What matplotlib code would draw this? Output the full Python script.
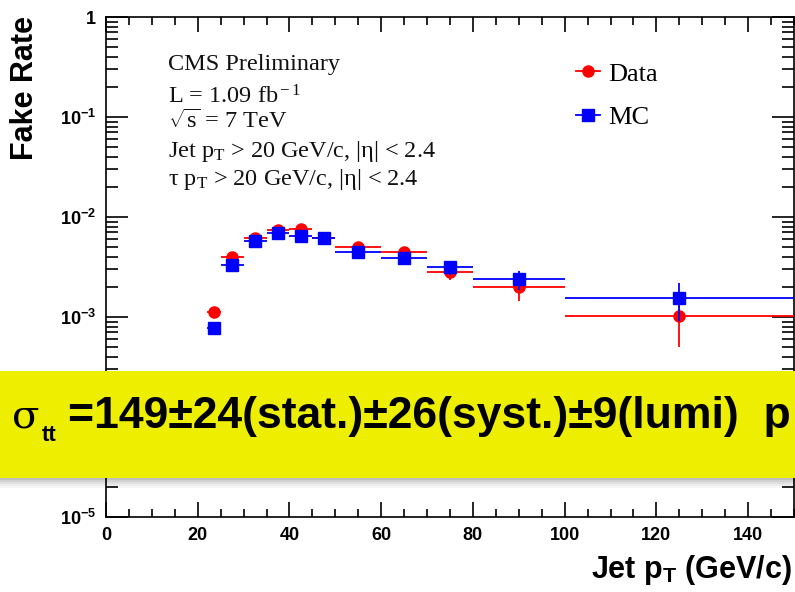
import numpy as np
import matplotlib
matplotlib.use('Agg')
import matplotlib.pyplot as plt
from matplotlib.patches import Rectangle
from matplotlib.lines import Line2D
from matplotlib.ticker import MultipleLocator, LogLocator, NullFormatter

# bins in jet pT (GeV/c)
bin_lo = [22, 25, 30, 35, 40, 45, 50, 60, 70, 80, 100]
bin_hi = [25, 30, 35, 40, 45, 50, 60, 70, 80, 100, 150]

data_rate = [1.12e-3, 4.0e-3, 6.2e-3, 7.4e-3, 7.6e-3, 6.2e-3, 5.0e-3, 4.5e-3, 2.84e-3, 2.0e-3, 1.02e-3]
data_err = [0.06e-3, 0.2e-3, 0.25e-3, 0.3e-3, 0.35e-3, 0.3e-3, 0.25e-3, 0.25e-3, 0.5e-3, 0.54e-3, 0.52e-3]
mc_rate = [0.78e-3, 3.29e-3, 5.75e-3, 6.87e-3, 6.4e-3, 6.2e-3, 4.5e-3, 3.9e-3, 3.16e-3, 2.38e-3, 1.56e-3]
mc_err = [0.04e-3, 0.12e-3, 0.2e-3, 0.25e-3, 0.25e-3, 0.2e-3, 0.2e-3, 0.2e-3, 0.5e-3, 0.52e-3, 0.64e-3]
mc_hi = [25, 30, 35, 40, 45, 50, 60, 70, 80, 100, 175]

# the 10^-4 label sits under the yellow banner in the original
ytick_vals = [1e-5, 1e-4, 1e-3, 1e-2, 1e-1, 1]
ytick_labels = [r'$\mathbf{10^{-5}}$', '', r'$\mathbf{10^{-3}}$',
                r'$\mathbf{10^{-2}}$', r'$\mathbf{10^{-1}}$', r'$\mathbf{1}$']

plt.rcParams['mathtext.fontset'] = 'custom'
plt.rcParams['mathtext.rm'] = 'Liberation Serif'
plt.rcParams['mathtext.it'] = 'Liberation Serif:italic'
plt.rcParams['mathtext.bf'] = 'Liberation Sans:bold'
plt.rcParams['mathtext.sf'] = 'Liberation Sans'

W, H = 795, 592
fig = plt.figure(figsize=(W / 100, H / 100), dpi=100)
ax = fig.add_axes([106 / W, 75 / H, 688 / W, 500 / H])

lo = np.array(bin_lo, float)
hi = np.array(bin_hi, float)
x = (lo + hi) / 2
mhi = np.array(mc_hi, float)

ax.errorbar(x, data_rate, xerr=[x - lo, hi - x], yerr=data_err, fmt='o', color='red',
            ms=8, elinewidth=1.3, capsize=0, zorder=3)
ax.errorbar(x, mc_rate, xerr=[x - lo, mhi - x], yerr=mc_err, fmt='s', color='blue',
            ms=8.5, elinewidth=1.3, capsize=0, zorder=4)

ax.set_yscale('log')
ax.set_xlim(0, 150)
ax.set_ylim(1e-5, 1)
ax.set_xticks(np.arange(0, 151, 20))
ax.xaxis.set_minor_locator(MultipleLocator(5))
ax.set_yticks(ytick_vals)
ax.set_yticklabels(ytick_labels)
ax.yaxis.set_minor_locator(LogLocator(base=10, subs=np.arange(2, 10)))
ax.yaxis.set_minor_formatter(NullFormatter())
ax.tick_params(which='both', direction='in', top=True, right=True, width=1.2)
ax.tick_params(axis='x', which='major', length=11, pad=7, labelsize=13)
ax.tick_params(axis='x', which='minor', length=6)
ax.tick_params(axis='y', which='major', length=16, pad=7, labelsize=13)
ax.tick_params(axis='y', which='minor', length=8.5)
for lab in ax.get_xticklabels():
    lab.set_fontweight('bold')
    lab.set_family('Liberation Sans')
for s in ax.spines.values():
    s.set_linewidth(1.2)

# info text
info = [('CMS Preliminary', 70),
        (r'L = 1.09 fb$^{\rm -1}$', 103),
        (r'$\sqrt{\rm s}$ = 7 TeV', 128),
        (r'Jet p$_{\rm T}$ > 20 GeV/c, |η| < 2.4', 157),
        (r'τ p$_{\rm T}$ > 20 GeV/c, |η| < 2.4', 185)]
for txt, yb in info:
    fig.text(168 / W, 1 - yb / H, txt, family='Liberation Serif', fontsize=17.5,
             va='baseline', ha='left', color='#111111')

handles = [Line2D([], [], color='red', marker='o', ms=8, lw=1.3),
           Line2D([], [], color='blue', marker='s', ms=8.5, lw=1.3)]
fig.legend(handles, ['Data', 'MC'], loc='upper left', bbox_to_anchor=(563 / W, 1 - 49 / H),
           frameon=False, prop={'family': 'Liberation Serif', 'size': 19},
           handlelength=0.9, handletextpad=0.3, labelspacing=0.75, borderpad=0)

fig.text(25 / W, 1 - 16 / H, 'Fake Rate', rotation=90, ha='center', va='top',
         family='Liberation Sans', fontweight='bold', fontsize=22)
fig.text(792 / W, 14 / H, r'Jet p$_{\mathbf{T}}$ (GeV/c)', ha='right', va='baseline',
         family='Liberation Sans', fontweight='bold', fontsize=22)

# yellow banner with shadow
for i, a in enumerate([0.25, 0.18, 0.12, 0.07, 0.03]):
    fig.add_artist(Rectangle((0, (H - 478 - i * 2 - 2) / H), 1, 2 / H, transform=fig.transFigure,
                             facecolor='black', alpha=a, edgecolor='none', zorder=9))
fig.add_artist(Rectangle((0, (H - 478) / H), 1, 107 / H, transform=fig.transFigure,
                         facecolor='#EEEE00', edgecolor='none', zorder=10))
fig.text(12 / W, 1 - 428 / H, 'σ', family='DejaVu Serif', fontsize=29, va='baseline',
         ha='left', zorder=11)
fig.text(42 / W, 1 - 441 / H, 'tt', family='Liberation Sans', fontweight='bold', fontsize=16,
         va='baseline', ha='left', zorder=11)
fig.text(68 / W, 1 - 428 / H, '=149±24(stat.)±26(syst.)±9(lumi)  p', family='Liberation Sans',
         fontweight='bold', fontsize=32, va='baseline', ha='left', zorder=11)

fig.savefig('out.png', dpi=100)
